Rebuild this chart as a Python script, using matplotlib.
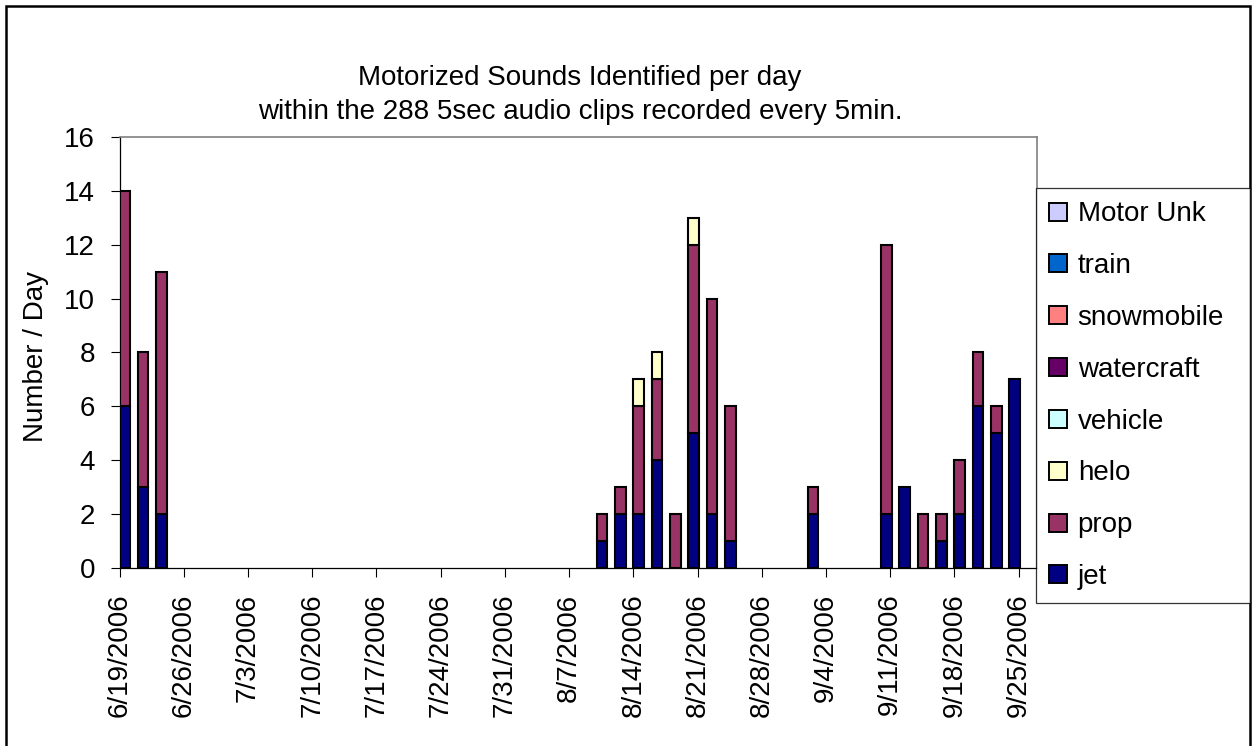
import matplotlib
matplotlib.use("Agg")
import matplotlib.pyplot as plt
import matplotlib.dates as mdates
from matplotlib.patches import Patch, Rectangle
import datetime as dt

plt.rcParams['font.family'] = ['Liberation Sans', 'DejaVu Sans']

# days with detections (other days are zero)
days = ['2006-06-19', '2006-06-21', '2006-06-23', '2006-08-10', '2006-08-12',
        '2006-08-14', '2006-08-16', '2006-08-18', '2006-08-20', '2006-08-22',
        '2006-08-24', '2006-09-02', '2006-09-10', '2006-09-12', '2006-09-14',
        '2006-09-16', '2006-09-18', '2006-09-20', '2006-09-22', '2006-09-24']
jet = [6, 3, 2, 1, 2, 2, 4, 0, 5, 2, 1, 2, 2, 3, 0, 1, 2, 6, 5, 7]
prop = [8, 5, 9, 1, 1, 4, 3, 2, 7, 8, 5, 1, 10, 0, 2, 1, 2, 2, 1, 0]
helo = [0, 0, 0, 0, 0, 1, 1, 0, 1, 0, 0, 0, 0, 0, 0, 0, 0, 0, 0, 0]
vehicle = [0] * 20
watercraft = [0] * 20
snowmobile = [0] * 20
train = [0] * 20
motor_unk = [0] * 20

series = ['jet', 'prop', 'helo', 'vehicle', 'watercraft', 'snowmobile', 'train', 'Motor Unk']
values = [jet, prop, helo, vehicle, watercraft, snowmobile, train, motor_unk]
colors = ['#000080', '#993366', '#FFFFCC', '#CCFFFF', '#660066', '#FF8080', '#0066CC', '#CCCCFF']

tick_days = ['2006-06-19', '2006-06-26', '2006-07-03', '2006-07-10', '2006-07-17',
             '2006-07-24', '2006-07-31', '2006-08-07', '2006-08-14', '2006-08-21',
             '2006-08-28', '2006-09-04', '2006-09-11', '2006-09-18', '2006-09-25']

W, H = 1252, 746
FS = 20
fig = plt.figure(figsize=(W / 100, H / 100), dpi=100)
ax = fig.add_axes([119.5 / W, 1 - 568 / H, (1037 - 119.5) / W, (568 - 137) / H])

x = mdates.date2num([dt.date.fromisoformat(d) for d in days])
bottom = [0] * len(x)
for name, vals, col in zip(series, values, colors):
    # zero segments are left undrawn
    h = [v if v else float('nan') for v in vals]
    ax.bar(x, h, width=1.15, bottom=bottom, align='edge', color=col,
           edgecolor='black', linewidth=1.5, zorder=3)
    bottom = [b + v for b, v in zip(bottom, vals)]

tick_dates = [dt.date.fromisoformat(t) for t in tick_days]
ticks = mdates.date2num(tick_dates)
ax.set_xticks(ticks)
ax.set_xticklabels([f"{d.month}/{d.day}/{d.year}" for d in tick_dates], rotation=90)
ax.set_xlim(ticks[0], ticks[0] + 100)
ax.set_ylim(0, 16)
ax.set_yticks(range(0, 17, 2))

ax.tick_params(axis='both', direction='out', length=6.5, width=0.8,
               color='black', labelsize=FS)
ax.tick_params(axis='x', pad=12)
ax.tick_params(axis='y', pad=11)

for s in ['left', 'bottom']:
    ax.spines[s].set_color('black')
    ax.spines[s].set_linewidth(0.9)
for s in ['top', 'right']:
    ax.spines[s].set_color('#808080')
    ax.spines[s].set_linewidth(1.2)

ax.set_ylabel('Number / Day', fontsize=FS)
ax.yaxis.set_label_coords(-0.077, 0.49)

fig.text(580 / W, 1 - 95 / H,
         'Motorized Sounds Identified per day\nwithin the 288 5sec audio clips recorded every 5min.',
         ha='center', va='center', fontsize=FS, linespacing=1.38)

handles = [Patch(facecolor=c, edgecolor='black', linewidth=1.4) for c in colors]
top = 1 - 188 / H
leg = fig.legend(handles[::-1], series[::-1], loc='upper left',
                 bbox_to_anchor=(1036 / W, top - 0.01, 214 / W, 0.01),
                 mode='expand', borderaxespad=0, fontsize=FS, frameon=True,
                 fancybox=False, handlelength=0.62, handleheight=0.62,
                 handletextpad=0.4, labelspacing=0.93, borderpad=0.48)
leg.get_frame().set_edgecolor('black')
leg.get_frame().set_linewidth(0.9)

# outer chart border
fig.patches.append(Rectangle((6 / W, -0.01), (1250 - 6) / W, 1.01 - 6 / H,
                             transform=fig.transFigure, fill=False,
                             edgecolor='black', linewidth=1.8))

fig.savefig('out.png', dpi=100)
